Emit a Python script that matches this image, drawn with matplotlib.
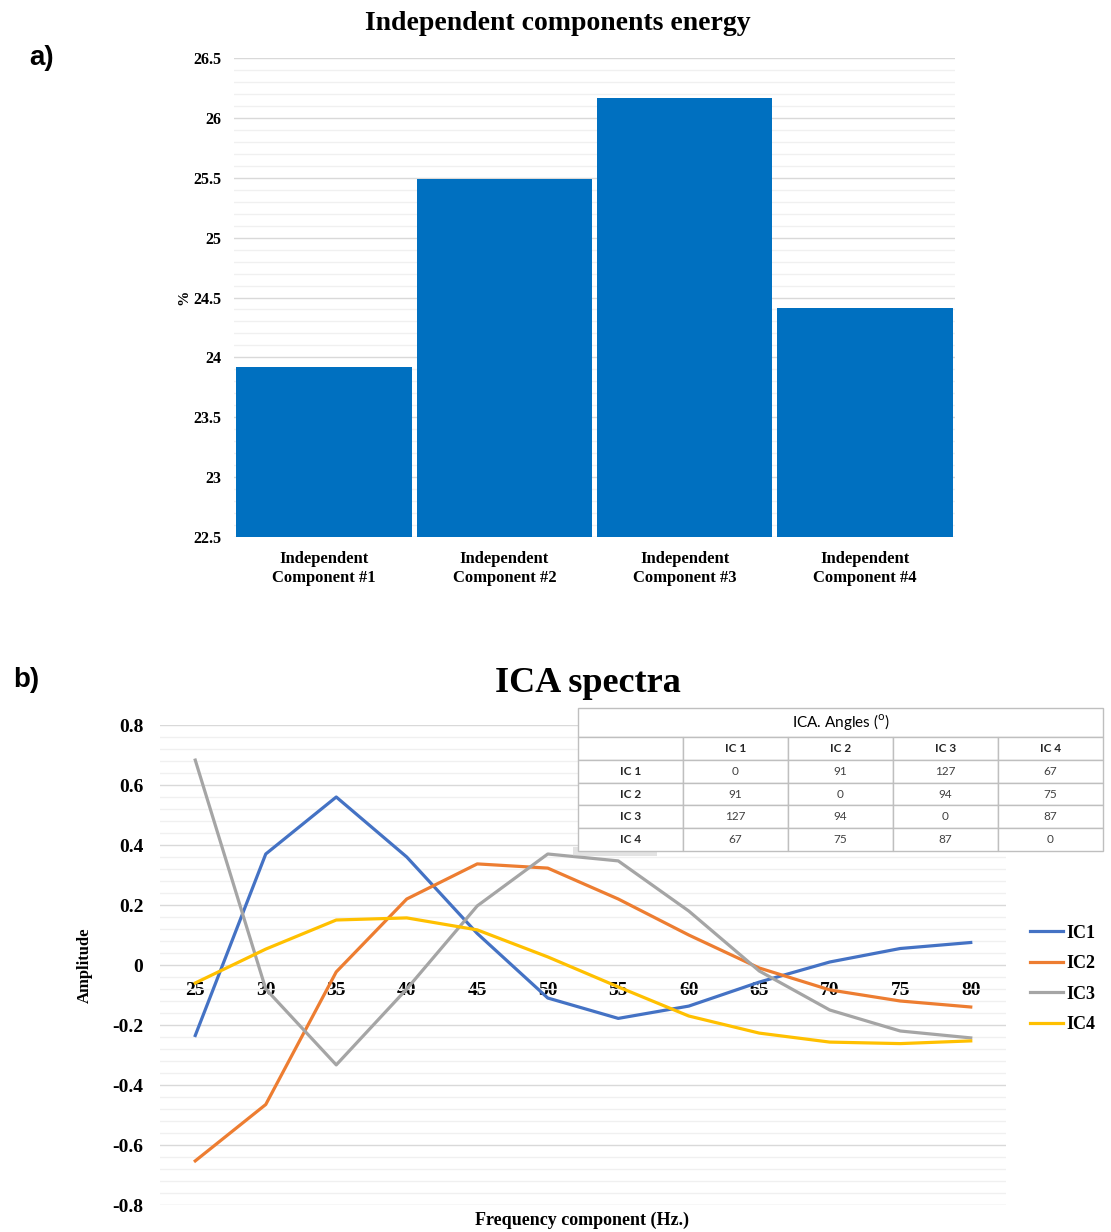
import matplotlib
matplotlib.use('Agg')
import matplotlib.pyplot as plt
from matplotlib.ticker import MultipleLocator, FormatStrFormatter
from matplotlib.patches import Rectangle

# --- data ---
components = ['Independent\nComponent #1', 'Independent\nComponent #2',
              'Independent\nComponent #3', 'Independent\nComponent #4']
energy = [23.92, 25.49, 26.17, 24.41]

freqs = [25, 30, 35, 40, 45, 50, 55, 60, 65, 70, 75, 80]
ic1 = [-0.235, 0.37, 0.56, 0.36, 0.105, -0.11, -0.178, -0.137, -0.057, 0.01, 0.055, 0.075]
ic2 = [-0.653, -0.465, -0.023, 0.22, 0.337, 0.323, 0.22, 0.10, -0.01, -0.083, -0.12, -0.14]
ic3 = [0.683, -0.08, -0.333, -0.08, 0.197, 0.37, 0.347, 0.18, -0.02, -0.15, -0.22, -0.243]
ic4 = [-0.06, 0.053, 0.15, 0.157, 0.117, 0.027, -0.073, -0.17, -0.227, -0.257, -0.262, -0.253]

angle_labels = ['IC 1', 'IC 2', 'IC 3', 'IC 4']
angles = [[0, 91, 127, 67],
          [91, 0, 94, 75],
          [127, 94, 0, 87],
          [67, 75, 87, 0]]

serif = 'Liberation Serif'
W, H = 1111, 1232
fig = plt.figure(figsize=(W / 100, H / 100), dpi=100)

# --- a) energy bars ---
ax1 = fig.add_axes([234 / W, 1 - 537 / H, (955 - 234) / W, (537 - 58) / H])
ax1.bar(range(4), energy, width=0.975, color='#0070C0', zorder=3)
ax1.set_xlim(-0.5, 3.5)
ax1.set_ylim(22.5, 26.5)
ax1.yaxis.set_major_locator(MultipleLocator(0.5))
ax1.yaxis.set_minor_locator(MultipleLocator(0.1))
ax1.yaxis.set_major_formatter(FormatStrFormatter('%g'))
ax1.grid(axis='y', which='major', color='#D9D9D9', lw=1.0, zorder=0)
ax1.grid(axis='y', which='minor', color='#F0F0F0', lw=1.0, zorder=0)
ax1.set_axisbelow(True)
for s in ax1.spines.values():
    s.set_visible(False)
ax1.set_xticks(range(4))
ax1.set_xticklabels(components, fontfamily=serif, fontweight='bold', fontsize=12,
                    linespacing=1.3)
ax1.tick_params(axis='both', which='both', length=0)
ax1.tick_params(axis='x', pad=10)
ax1.tick_params(axis='y', pad=9)
for t in ax1.get_yticklabels():
    t.set_fontfamily(serif)
    t.set_fontweight('bold')
    t.set_fontsize(11.5)
ax1.set_ylabel('%', fontfamily=serif, fontweight='bold', fontsize=11, labelpad=2)
fig.text(558 / W, 1 - 23 / H, 'Independent components energy', ha='center', va='center',
         fontfamily=serif, fontweight='bold', fontsize=20)
fig.text(42 / W, 1 - 58 / H, 'a)', ha='center', va='center',
         fontfamily='Liberation Sans', fontweight='bold', fontsize=20)

# --- b) ICA spectra ---
ax2 = fig.add_axes([160 / W, 1 - 1205 / H, (1006 - 160) / W, (1205 - 725) / H])
colors = ['#4472C4', '#ED7D31', '#A5A5A5', '#FFC000']
for ys, c, lab in zip([ic1, ic2, ic3, ic4], colors, ['IC1', 'IC2', 'IC3', 'IC4']):
    ax2.plot(freqs, ys, color=c, lw=2.3, label=lab, zorder=3)
ax2.set_xlim(22.5, 82.5)
ax2.set_ylim(-0.8, 0.8)
ax2.set_xticks(freqs)
ax2.yaxis.set_major_locator(MultipleLocator(0.2))
ax2.yaxis.set_minor_locator(MultipleLocator(0.04))
ax2.yaxis.set_major_formatter(FormatStrFormatter('%g'))
ax2.grid(axis='y', which='major', color='#D9D9D9', lw=1.0, zorder=0)
ax2.grid(axis='y', which='minor', color='#F0F0F0', lw=1.0, zorder=0)
ax2.set_axisbelow(True)
for s in ax2.spines.values():
    s.set_visible(False)
ax2.spines['bottom'].set_position(('data', 0))
ax2.tick_params(axis='both', which='both', length=0)
ax2.tick_params(axis='x', pad=12)
ax2.tick_params(axis='y', pad=12)
for t in ax2.get_xticklabels() + ax2.get_yticklabels():
    t.set_fontfamily(serif)
    t.set_fontweight('bold')
    t.set_fontsize(14)
ax2.set_ylabel('Amplitude', fontfamily=serif, fontweight='bold', fontsize=12, labelpad=14)
fig.text(582 / W, 1 - 1220 / H, 'Frequency component (Hz.)', ha='center', va='center',
         fontfamily=serif, fontweight='bold', fontsize=13)
fig.text(588 / W, 1 - 683 / H, 'ICA spectra', ha='center', va='center',
         fontfamily=serif, fontweight='bold', fontsize=26)
fig.text(26 / W, 1 - 680 / H, 'b)', ha='center', va='center',
         fontfamily='Liberation Sans', fontweight='bold', fontsize=20)
leg = ax2.legend(loc='center left', bbox_to_anchor=(1014 / W, 1 - 979 / H),
                 bbox_transform=fig.transFigure, frameon=False, handlelength=1.8,
                 handletextpad=0.2, labelspacing=0.75,
                 prop={'family': serif, 'weight': 'bold', 'size': 13})

# --- angle table ---
tax = fig.add_axes([578 / W, 1 - 851 / H, (1103 - 578) / W, (851 - 708) / H])
tax.set_xlim(0, 1)
tax.set_ylim(0, 1)
tax.axis('off')
body_h = 114 / 143
shadow = Rectangle((-0.01, -0.035), 0.16, 0.06, facecolor='#C8C8C8', edgecolor='none',
                   alpha=0.5, zorder=0, clip_on=False)
tax.add_patch(shadow)
tax.add_patch(Rectangle((0, body_h), 1, 1 - body_h, facecolor='white', edgecolor='#BFBFBF',
                        lw=1.0, zorder=2, clip_on=False))
tax.text(0.5, (1 + body_h) / 2, r'ICA. Angles ($^{\mathrm{o}}$)', ha='center', va='center',
         fontfamily='Lato', fontsize=11, zorder=3)
cell_text = [[''] + angle_labels] + [[angle_labels[i]] + [str(v) for v in row]
                                      for i, row in enumerate(angles)]
tbl = tax.table(cellText=cell_text, cellLoc='center', bbox=[0, 0, 1, body_h], zorder=2)
tbl.auto_set_font_size(False)
tbl.set_fontsize(8.5)
for (r, c), cell in tbl.get_celld().items():
    cell.set_edgecolor('#BFBFBF')
    cell.set_linewidth(1.0)
    cell.set_facecolor('white')
    cell.get_text().set_fontfamily('Lato')
    cell.get_text().set_color('#404040')
    if r == 0 or c == 0:
        cell.get_text().set_fontweight('bold')
        cell.get_text().set_color('#262626')

fig.savefig('out.png', dpi=100, facecolor='white')
